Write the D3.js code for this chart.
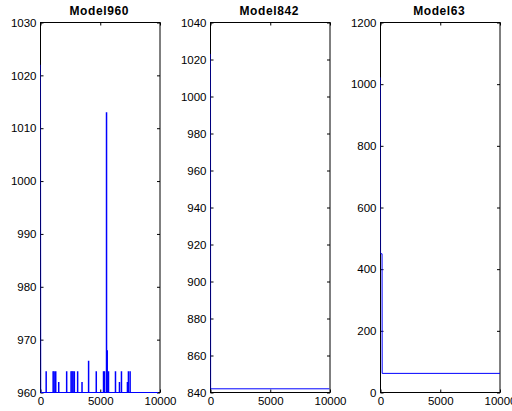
<!DOCTYPE html>
<html>
<head>
<meta charset="utf-8">
<script src="https://cdn.jsdelivr.net/npm/d3@7"></script>
<style>
  html, body { margin: 0; padding: 0; background: #fff; }
  svg { display: block; }
  .tick text { font-family: "Liberation Sans", Arial, sans-serif; font-size: 11.5px; fill: #000; }
  .title { font-family: "Liberation Sans", Arial, sans-serif; font-size: 12px; font-weight: bold; letter-spacing: 0.6px; }
</style>
</head>
<body>
<svg id="chart" width="512" height="411"></svg>
<script>
// Iteration axis shared by all three traces
const iterDomain = [0, 10000];
const iterTicks = [0, 5000, 10000];

// Model960: initial value, then a flat floor with isolated jumps
const m960Title = "Model960";
const m960Domain = [960, 1030];
const m960Ticks = [960, 970, 980, 990, 1000, 1010, 1020, 1030];
const m960Trace = [[0, 1022], [20, 960], [9850, 960]];
const m960SpikeIter = [475, 1058, 1142, 1275, 1525, 2190, 2558, 2642, 2725, 2833, 3108, 3475, 4025, 4667, 5275, 5358, 5525, 5583, 5692, 6275, 6608, 6775, 7275, 7358, 7500];
const m960SpikeVal  = [964, 964, 964, 964, 962, 964, 964, 964, 964, 964, 964, 962, 966, 964, 964, 964, 1013, 968, 964, 964, 962, 964, 962, 964, 964];
const m960Floor = 960;

// Model842: single drop to a constant level
const m842Title = "Model842";
const m842Domain = [840, 1040];
const m842Ticks = [840, 860, 880, 900, 920, 940, 960, 980, 1000, 1020, 1040];
const m842Trace = [[0, 1023], [10, 842], [9950, 842]];

// Model63: two-step drop to a constant level
const m63Title = "Model63";
const m63Domain = [0, 1200];
const m63Ticks = [0, 200, 400, 600, 800, 1000, 1200];
const m63Trace = [[0, 1022], [5, 450], [130, 450], [140, 62], [10000, 62]];

const svg = d3.select("#chart");
svg.append("rect").attr("width", 512).attr("height", 411).attr("fill", "#fff");

const plotTop = 22.5, plotBottom = 392.5, plotW = 119.5;
const panels = [
  { left: 40.5,  title: m960Title, domain: m960Domain, ticks: m960Ticks, trace: m960Trace,
    spikes: m960SpikeIter.map((it, i) => [it, m960SpikeVal[i]]), floor: m960Floor },
  { left: 210.5, title: m842Title, domain: m842Domain, ticks: m842Ticks, trace: m842Trace },
  { left: 380.5, title: m63Title,  domain: m63Domain,  ticks: m63Ticks,  trace: m63Trace }
];

panels.forEach((p, idx) => {
  const x = d3.scaleLinear().domain(iterDomain).range([p.left, p.left + plotW]);
  const y = d3.scaleLinear().domain(p.domain).range([plotBottom, plotTop]);
  const g = svg.append("g");

  const clipId = "clip" + idx;
  svg.append("clipPath").attr("id", clipId)
    .append("rect").attr("x", p.left).attr("y", plotTop - 1).attr("width", plotW + 1).attr("height", plotBottom - plotTop + 2);

  // axes box
  g.append("rect")
    .attr("x", p.left).attr("y", plotTop).attr("width", plotW).attr("height", plotBottom - plotTop)
    .attr("fill", "none").attr("stroke", "#000").attr("stroke-width", 1);

  const tk = 3;
  const styleAxis = sel => { sel.select(".domain").remove(); sel.selectAll(".tick line").attr("stroke", "#000"); };

  g.append("g").attr("transform", `translate(${p.left},0)`)
    .call(d3.axisLeft(y).tickValues(p.ticks).tickSize(-tk).tickPadding(4).tickFormat(d3.format("d")))
    .call(styleAxis);
  g.append("g").attr("transform", `translate(${p.left + plotW},0)`)
    .call(d3.axisRight(y).tickValues(p.ticks).tickSize(-tk).tickFormat(""))
    .call(styleAxis);
  g.append("g").attr("transform", `translate(0,${plotBottom})`)
    .call(d3.axisBottom(x).tickValues(iterTicks).tickSize(-tk).tickPadding(4).tickFormat(d3.format("d")))
    .call(styleAxis);
  g.append("g").attr("transform", `translate(0,${plotTop})`)
    .call(d3.axisTop(x).tickValues(iterTicks).tickSize(-tk).tickFormat(""))
    .call(styleAxis);

  const data = svg.append("g").attr("clip-path", `url(#${clipId})`);
  const line = d3.line().x(d => x(d[0])).y(d => y(d[1]));
  data.append("path").datum(p.trace)
    .attr("d", line).attr("fill", "none").attr("stroke", "#0000ff").attr("stroke-width", 1);

  if (p.spikes) {
    data.selectAll("line.spike").data(p.spikes).join("line")
      .attr("class", "spike")
      .attr("x1", d => x(d[0])).attr("x2", d => x(d[0]))
      .attr("y1", y(p.floor)).attr("y2", d => y(d[1]))
      .attr("stroke", "#0000ff").attr("stroke-width", 1.5);
  }

  svg.append("text").attr("class", "title")
    .attr("x", p.left + plotW / 2 - 1).attr("y", 14.5)
    .attr("text-anchor", "middle").text(p.title);
});
</script>
</body>
</html>
